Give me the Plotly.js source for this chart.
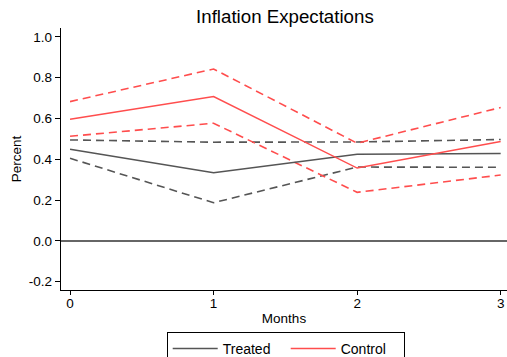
<!DOCTYPE html>
<html>
<head>
<meta charset="utf-8">
<script src="https://cdn.plot.ly/plotly-3.0.1.min.js"></script>
<style>html,body{margin:0;padding:0;background:#fff;}#chart{width:507px;height:357px;}</style>
</head>
<body>
<div id="chart"></div>
<script>
const months = [0, 1, 2, 3];
const treated = [0.449, 0.334, 0.425, 0.428];
const treatedUpper = [0.495, 0.484, 0.485, 0.497];
const treatedLower = [0.405, 0.187, 0.362, 0.361];
const control = [0.597, 0.708, 0.357, 0.487];
const controlUpper = [0.683, 0.843, 0.479, 0.654];
const controlLower = [0.513, 0.577, 0.238, 0.323];
const yTicks = [-0.2, 0, 0.2, 0.4, 0.6, 0.8, 1.0];
const yTickLabels = ["-0.2", "0.0", "0.2", "0.4", "0.6", "0.8", "1.0"];

const gray = '#555555';
const red = '#ff4d4d';
const dash = '8px,5px';

const traces = [
  {x: months, y: treatedUpper, mode: 'lines', line: {color: gray, width: 1.6, dash: dash}, showlegend: false, hoverinfo: 'skip'},
  {x: months, y: treatedLower, mode: 'lines', line: {color: gray, width: 1.6, dash: dash}, showlegend: false, hoverinfo: 'skip'},
  {x: months, y: controlUpper, mode: 'lines', line: {color: red, width: 1.6, dash: dash}, showlegend: false, hoverinfo: 'skip'},
  {x: months, y: controlLower, mode: 'lines', line: {color: red, width: 1.6, dash: dash}, showlegend: false, hoverinfo: 'skip'},
  {x: months, y: treated, mode: 'lines', name: 'Treated', line: {color: gray, width: 1.5}},
  {x: months, y: control, mode: 'lines', name: 'Control', line: {color: red, width: 1.5}}
];

const layout = {
  width: 507, height: 357,
  margin: {l: 61, r: 0, t: 28, b: 67, autoexpand: false},
  paper_bgcolor: '#fff', plot_bgcolor: '#fff',
  font: {family: 'Liberation Sans, Arial, sans-serif', size: 13.5, color: '#000'},
  title: {text: 'Inflation Expectations', font: {size: 18.7, color: '#000'}, x: 0.562, xref: 'container', xanchor: 'center', y: 0.953, yref: 'container', yanchor: 'middle'},
  xaxis: {
    range: [-0.063, 3.044], tickvals: months, ticktext: months.map(String),
    showgrid: false, zeroline: false, showline: true, linecolor: '#000', linewidth: 1.3,
    ticks: 'outside', ticklen: 4, tickcolor: '#000', tickwidth: 1,
    ticklabelstandoff: -4,
    title: {text: 'Months', font: {size: 13.5}, standoff: 4},
    automargin: false
  },
  yaxis: {
    range: [-0.241, 1.044], tickvals: yTicks, ticktext: yTickLabels,
    showgrid: false, zeroline: true, zerolinecolor: '#666666', zerolinewidth: 1.6,
    showline: true, linecolor: '#000', linewidth: 1.3,
    ticks: 'outside', ticklen: 5, tickcolor: '#000', tickwidth: 1,
    title: {text: 'Percent', font: {size: 13.5}, standoff: 4},
    automargin: false
  },
  legend: {
    orientation: 'h', x: 0.237, xanchor: 'left', y: -0.16, yanchor: 'top',
    bordercolor: '#000', borderwidth: 1, font: {size: 14},
    itemwidth: 45, entrywidth: 58, tracegroupgap: 0
  },
  showlegend: true
};

Plotly.newPlot('chart', traces, layout, {staticPlot: true});
</script>
</body>
</html>
